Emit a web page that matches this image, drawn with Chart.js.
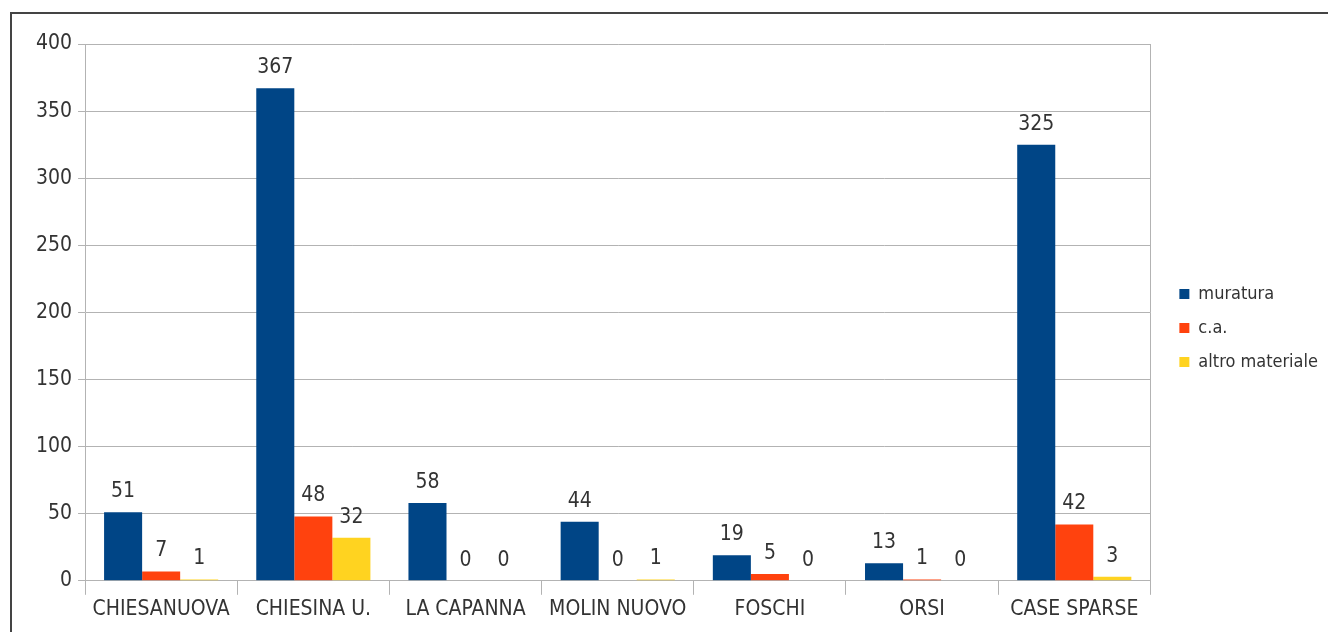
<!DOCTYPE html>
<html>
<head>
<meta charset="utf-8">
<script src="https://cdn.jsdelivr.net/npm/chart.js@4"></script>
<style>
  body { margin: 0; background: #fff; }
  #wrap { position: relative; width: 1328px; height: 632px; }
  #frame { position: absolute; left: 10px; top: 12px; width: 1400px; height: 700px;
           border-left: 2px solid #444; border-top: 2px solid #444; pointer-events: none; }
</style>
</head>
<body>
<div id="wrap">
  <canvas id="chart1" width="1328" height="632"></canvas>
  <div id="frame"></div>
</div>
<script>
const FONT = '"Liberation Sans Narrow", "DejaVu Sans Condensed", sans-serif'

const places = ['CHIESANUOVA', 'CHIESINA U.', 'LA CAPANNA', 'MOLIN NUOVO', 'FOSCHI', 'ORSI', 'CASE SPARSE']
const muratura = [51, 367, 58, 44, 19, 13, 325]
const ca = [7, 48, 0, 0, 5, 1, 42]
const altro = [1, 32, 0, 1, 0, 0, 3]

// value over each bar + right edge of the plot wall
const valueLabels = {
    id: 'valueLabels',
    afterDatasetsDraw(chart) {
        const ctx = chart.ctx
        const area = chart.chartArea
        ctx.save()
        ctx.strokeStyle = '#b3b3b3'
        ctx.lineWidth = 1
        ctx.beginPath()
        ctx.moveTo(Math.round(area.right) + 0.5, area.top)
        ctx.lineTo(Math.round(area.right) + 0.5, area.bottom)
        ctx.stroke()

        ctx.font = '21px ' + FONT
        ctx.fillStyle = '#333'
        ctx.textAlign = 'center'
        ctx.textBaseline = 'bottom'
        chart.data.datasets.forEach((ds, i) => {
            chart.getDatasetMeta(i).data.forEach((bar, j) => {
                ctx.fillText(ds.data[j], bar.x, bar.y - 10)
            })
        })
        ctx.restore()
    }
}

const data = {
    labels: places,
    datasets: [
        { label: 'muratura', data: muratura, backgroundColor: '#004586' },
        { label: 'c.a.', data: ca, backgroundColor: '#ff420e' },
        { label: 'altro materiale', data: altro, backgroundColor: '#ffd320' }
    ]
}

let options = {
    responsive: false,
    animation: false,
    categoryPercentage: 0.75,
    barPercentage: 1,
    layout: {
        padding: { left: 30, top: 32, right: 0, bottom: 8 }
    },
    plugins: {
        legend: {
            position: 'right',
            labels: {
                boxWidth: 10,
                boxHeight: 10,
                padding: 16,
                color: '#333',
                font: { family: FONT, size: 18 }
            }
        },
        tooltip: { enabled: false }
    },
    scales: {
        x: {
            grid: { drawOnChartArea: false, color: '#b3b3b3', tickLength: 14, offset: true },
            border: { color: '#b3b3b3' },
            ticks: { color: '#333', font: { family: FONT, size: 21 }, padding: 2, maxRotation: 0 }
        },
        y: {
            min: 0,
            max: 400,
            grid: { color: '#b3b3b3', tickLength: 7 },
            border: { color: '#b3b3b3' },
            ticks: { stepSize: 50, color: '#333', font: { family: FONT, size: 21 }, padding: 6 }
        },
        // empty axes, only keep room above the plot and between plot and legend
        gapTop: {
            type: 'category',
            axis: 'x',
            position: 'top',
            grid: { display: false },
            border: { display: false },
            ticks: { display: false },
            afterFit(scale) { scale.height = 12 }
        },
        gap: {
            position: 'right',
            grid: { display: false },
            border: { display: false },
            ticks: { display: false },
            afterFit(scale) { scale.width = 13 }
        }
    }
}

new Chart('chart1', { type: 'bar', data, options, plugins: [valueLabels] })
</script>
</body>
</html>
